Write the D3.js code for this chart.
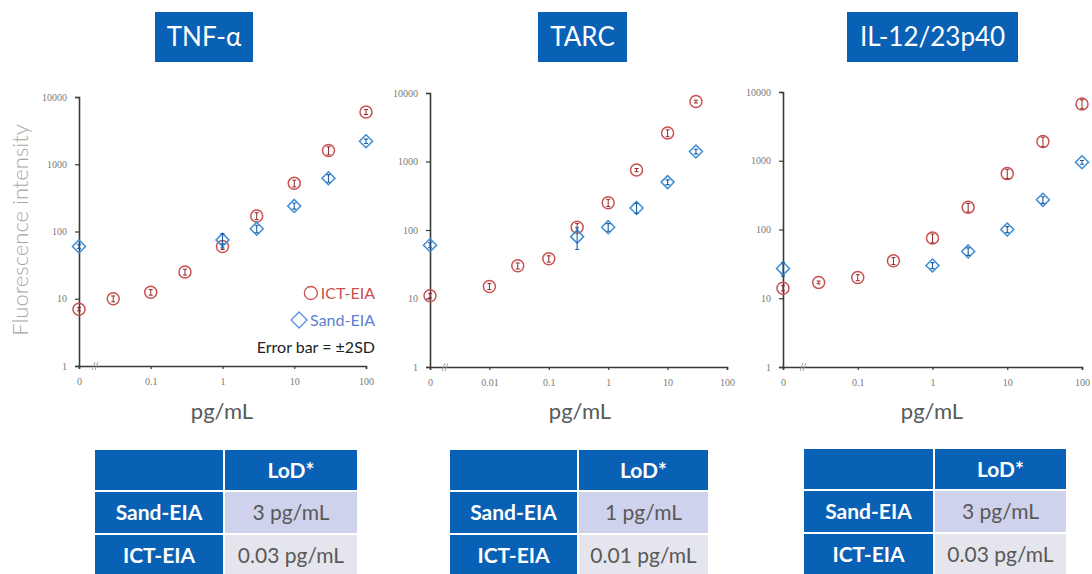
<!DOCTYPE html>
<html>
<head>
<meta charset="utf-8">
<script src="https://cdn.jsdelivr.net/npm/d3@7"></script>
<style>
  body { margin: 0; background: #fff; }
  svg { display: block; font-family: Lato, "Open Sans", sans-serif; }
</style>
</head>
<body>
<div id="chart"></div>
<script>
// ---- data ----
const tnfIctConc = [0, 0.03, 0.1, 0.3, 1, 3, 10, 30, 100];
const tnfIct = [7, 10, 12.5, 25, 60, 170, 520, 1600, 6000];
const tnfIctErr = [0.4, 1, 1.2, 2.5, 6, 20, 60, 220, 500];
const tnfSandConc = [0, 1, 3, 10, 30, 100];
const tnfSand = [60, 75, 110, 240, 620, 2200];
const tnfSandErr = [4, 18, 14, 25, 80, 160];

const tarcIctConc = [0, 0.01, 0.03, 0.1, 0.3, 1, 3, 10, 30];
const tarcIct = [11, 15, 30, 38, 110, 250, 750, 2600, 7500];
const tarcIctErr = [0.8, 1.5, 3, 4, 14, 30, 40, 300, 350];
const tarcSandConc = [0, 0.3, 1, 3, 10, 30];
const tarcSand = [60, 80, 110, 210, 500, 1400];
const tarcSandErr = [5, 28, 14, 35, 40, 110];

const ilIctConc = [0, 0.03, 0.1, 0.3, 1, 3, 10, 30, 100];
const ilIct = [14, 17, 20, 35, 75, 210, 650, 1900, 6700];
const ilIctErr = [1.2, 0.8, 2, 4, 11, 30, 100, 300, 1000];
const ilSandConc = [0, 1, 3, 10, 30, 100];
const ilSand = [27, 30, 48, 100, 270, 950];
const ilSandErr = [6, 3, 6, 10, 30, 60];

const yTicks = [1, 10, 100, 1000, 10000];
const tnfXTicks = [0, 0.1, 1, 10, 100];
const tarcXTicks = [0, 0.01, 0.1, 1, 10, 100];
const ilXTicks = [0, 0.1, 1, 10, 100];

const tableRows = ["Sand-EIA", "ICT-EIA"];
const tnfLod = ["3 pg/mL", "0.03 pg/mL"];
const tarcLod = ["1 pg/mL", "0.01 pg/mL"];
const ilLod = ["3 pg/mL", "0.03 pg/mL"];

// ---- colours ----
const blue = "#0961b6";
const red = "#c9514f";
const redDark = "#8e2a2a";
const sandBlue = "#3a8dd8";
const sandDark = "#1f5c9c";

const width = 1092;
const height = 574;

const svg = d3.select("#chart")
	.append("svg")
	.attr("width", width)
	.attr("height", height);

svg.append("rect").attr("width", width).attr("height", height).attr("fill", "#fff");

const zip = (xs, ys, es) => xs.map((x, i) => ({x: x, y: ys[i], e: es[i]}));

const panels = [
	{
		title: "TNF-α", box: [155, 253], zero: 0.01, xTicks: tnfXTicks,
		x0: 79, x1: 366, yTop: 97, yBottom: 366, brk: 16, labelX: 222,
		ict: zip(tnfIctConc, tnfIct, tnfIctErr), sand: zip(tnfSandConc, tnfSand, tnfSandErr),
		table: {x0: 95, split: 223, x1: 357, top: 450}, lod: tnfLod
	},
	{
		title: "TARC", box: [538, 627], zero: 0.001, xTicks: tarcXTicks,
		x0: 430, x1: 727, yTop: 93, yBottom: 367, brk: 15, labelX: 580,
		ict: zip(tarcIctConc, tarcIct, tarcIctErr), sand: zip(tarcSandConc, tarcSand, tarcSandErr),
		table: {x0: 450, split: 577, x1: 708, top: 450}, lod: tarcLod
	},
	{
		title: "IL-12/23p40", box: [847, 1018], zero: 0.01, xTicks: ilXTicks,
		x0: 783, x1: 1082, yTop: 92, yBottom: 367, brk: 20, labelX: 932,
		ict: zip(ilIctConc, ilIct, ilIctErr), sand: zip(ilSandConc, ilSand, ilSandErr),
		table: {x0: 804, split: 933, x1: 1066, top: 449}, lod: ilLod
	}
];

const diamond = s => `M0,${-s}L${s},0L0,${s}L${-s},0Z`;

panels.forEach((p, pi) => {
	const g = svg.append("g");

	// title box
	g.append("rect")
		.attr("x", p.box[0]).attr("y", 12)
		.attr("width", p.box[1] - p.box[0]).attr("height", 50)
		.attr("fill", blue);
	g.append("text")
		.attr("x", (p.box[0] + p.box[1]) / 2).attr("y", 37)
		.attr("dy", "0.35em")
		.attr("text-anchor", "middle")
		.attr("fill", "#fff")
		.attr("font-size", 26)
		.text(p.title);

	const x = d3.scaleLog().domain([p.zero, 100]).range([p.x0, p.x1]);
	const y = d3.scaleLog().domain([1, 10000]).range([p.yBottom, p.yTop]);
	const xPos = v => x(v === 0 ? p.zero : v);

	// axes
	const yAxis = g.append("g")
		.attr("transform", `translate(${p.x0},0)`)
		.call(d3.axisLeft(y).tickValues(yTicks).tickFormat(d3.format("d")).tickSize(4).tickPadding(8));
	const xAxis = g.append("g")
		.attr("transform", `translate(0,${p.yBottom})`)
		.call(d3.axisBottom(x).tickValues(p.xTicks.map(v => v === 0 ? p.zero : v))
			.tickFormat(v => v === p.zero ? "0" : String(v)).tickSize(3).tickPadding(9));
	[yAxis, xAxis].forEach(a => {
		a.select(".domain").attr("stroke", "#3a3a3a").attr("stroke-width", 1.6);
		a.selectAll(".tick line").attr("stroke", "#3a3a3a").attr("stroke-width", 1.2);
		a.selectAll(".tick text")
			.attr("fill", "#7a7a7a")
			.attr("font-family", "'Liberation Serif', serif")
			.attr("font-size", 10);
	});

	// axis break marks
	const bx = p.x0 + p.brk;
	[-1.5, 1.5].forEach(dx => {
		g.append("line")
			.attr("x1", bx + dx - 1.5).attr("y1", p.yBottom + 4)
			.attr("x2", bx + dx + 1.5).attr("y2", p.yBottom - 4)
			.attr("stroke", "#9a9a9a").attr("stroke-width", 0.9);
	});

	// x label
	g.append("text")
		.attr("x", p.labelX).attr("y", 419)
		.attr("text-anchor", "middle")
		.attr("fill", "#595959")
		.attr("font-size", 22)
		.text("pg/mL");

	// ICT-EIA circles with error bars
	const ict = g.append("g");
	p.ict.forEach(d => {
		const cx = xPos(d.x);
		ict.append("circle")
			.attr("cx", cx).attr("cy", y(d.y)).attr("r", 6)
			.attr("fill", "none").attr("stroke", red).attr("stroke-width", 1.5);
		const t = y(d.y + d.e), b = y(d.y - d.e);
		ict.append("path")
			.attr("d", `M${cx},${t}V${b}M${cx - 2},${t}H${cx + 2}M${cx - 2},${b}H${cx + 2}`)
			.attr("stroke", redDark).attr("stroke-width", 1).attr("fill", "none");
	});

	// Sand-EIA diamonds with error bars
	const sand = g.append("g");
	p.sand.forEach(d => {
		const cx = xPos(d.x), cy = y(d.y);
		sand.append("path")
			.attr("transform", `translate(${cx},${cy})`)
			.attr("d", diamond(6.5))
			.attr("fill", "none").attr("stroke", sandBlue).attr("stroke-width", 1.5);
		const t = y(d.y + d.e), b = y(d.y - d.e);
		sand.append("path")
			.attr("d", `M${cx},${t}V${b}M${cx - 2},${t}H${cx + 2}M${cx - 2},${b}H${cx + 2}`)
			.attr("stroke", sandDark).attr("stroke-width", 1.1).attr("fill", "none");
	});

	// table
	const tb = p.table;
	const rowsY = [[tb.top, 40], [tb.top + 42, 41], [tb.top + 85, 41]];
	const cells = [
		[{fill: blue, text: "", bold: true}, {fill: blue, text: "LoD*", bold: true}],
		[{fill: blue, text: tableRows[0], bold: true}, {fill: "#cfd2ec", text: p.lod[0]}],
		[{fill: blue, text: tableRows[1], bold: true}, {fill: "#e5e6ed", text: p.lod[1]}]
	];
	cells.forEach((row, ri) => {
		const [ry, rh] = rowsY[ri];
		row.forEach((c, ci) => {
			const cx0 = ci === 0 ? tb.x0 : tb.split + 2;
			const cx1 = ci === 0 ? tb.split : tb.x1;
			g.append("rect")
				.attr("x", cx0).attr("y", ry)
				.attr("width", cx1 - cx0).attr("height", rh)
				.attr("fill", c.fill);
			if (c.text) {
				g.append("text")
					.attr("x", (cx0 + cx1) / 2).attr("y", ry + rh / 2)
					.attr("dy", "0.36em")
					.attr("text-anchor", "middle")
					.attr("font-size", 21)
					.attr("font-weight", c.bold ? 700 : 400)
					.attr("fill", c.bold ? "#fff" : "#595959")
					.text(c.text);
			}
		});
	});

	// legend in the first panel
	if (pi === 0) {
		const lg = g.append("g").attr("font-size", 16);
		const right = 375;
		const t1 = lg.append("text").attr("x", right).attr("y", 293).attr("dy", "0.35em")
			.attr("text-anchor", "end").attr("fill", red).text("ICT-EIA");
		const w1 = t1.node().getComputedTextLength();
		lg.append("circle").attr("cx", right - w1 - 10).attr("cy", 293).attr("r", 6.5)
			.attr("fill", "none").attr("stroke", red).attr("stroke-width", 1.3);
		const t2 = lg.append("text").attr("x", right).attr("y", 320).attr("dy", "0.35em")
			.attr("text-anchor", "end").attr("fill", "#5b7fd3").text("Sand-EIA");
		const w2 = t2.node().getComputedTextLength();
		lg.append("path").attr("transform", `translate(${right - w2 - 11},320)`).attr("d", diamond(8))
			.attr("fill", "none").attr("stroke", "#5b8fd8").attr("stroke-width", 1.3);
		lg.append("text").attr("x", right).attr("y", 347).attr("dy", "0.35em")
			.attr("text-anchor", "end").attr("fill", "#222").text("Error bar = ±2SD");
	}
});

// y axis title
svg.append("text")
	.attr("transform", "translate(28,230) rotate(-90)")
	.attr("text-anchor", "middle")
	.attr("fill", "#a6a6a6")
	.attr("font-size", 22)
	.attr("font-weight", 300)
	.text("Fluorescence intensity");
</script>
</body>
</html>
